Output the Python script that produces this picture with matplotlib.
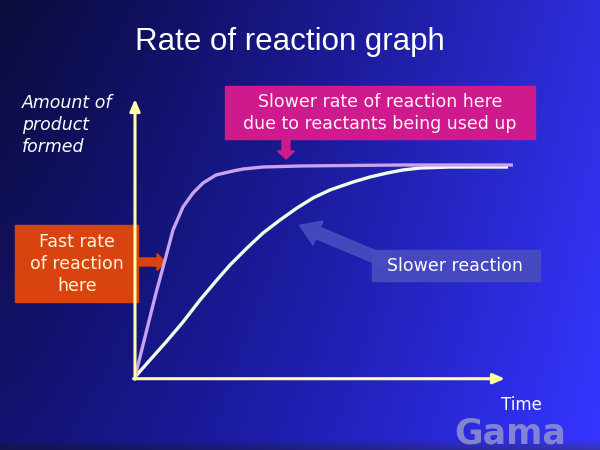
import numpy as np
import matplotlib
matplotlib.use("Agg")
import matplotlib.pyplot as plt
import matplotlib.patches as mpatches

# ---- data (time and amount in arbitrary units) ----
fast_time = [0, 2.97, 5.68, 8.11, 10.27, 12.97, 15.68, 18.38, 21.89, 26.49, 29.19,
             34.59, 44.59, 71.62, 102.16]
fast_amount = [0, 15.49, 29.58, 41.20, 51.76, 59.86, 64.79, 68.31, 71.13, 72.54, 73.24,
               73.94, 74.30, 74.65, 74.65]
slow_time = [0, 4.05, 8.38, 12.97, 17.57, 21.89, 25.68, 30.27, 34.59, 39.19, 43.78,
             48.11, 52.70, 58.92, 63.51, 68.11, 72.43, 77.03, 85.14, 100.81]
slow_amount = [0, 5.99, 12.32, 19.37, 27.11, 33.80, 39.44, 45.42, 50.70, 55.28, 59.51,
               63.03, 65.85, 68.66, 70.42, 71.83, 72.89, 73.59, 73.94, 73.94]

title = "Rate of reaction graph"
y_label = "Amount of\nproduct\nformed"
x_label = "Time"
fast_note = "Fast rate\nof reaction\nhere"
plateau_note = "Slower rate of reaction here\ndue to reactants being used up"
slow_note = "Slower reaction"

W, H = 600, 450
fig = plt.figure(figsize=(6, 4.5), dpi=100)

# ---- background (pixel-coordinate layer) ----
bg = fig.add_axes([0, 0, 1, 1])
bg.set_xlim(0, W)
bg.set_ylim(H, 0)
bg.axis("off")
yy, xx = np.mgrid[0:H, 0:W]
fx = xx / W
fy = yy / H
r = 12 + 34 * fx ** 1.5 + 8 * fy
g = 12 + 34 * fx ** 1.5 + 8 * fy
b = 60 + 160 * fx ** 1.1 + 55 * fy * (1 - 0.3 * fx)
b = b * (1 - 0.35 * np.clip((fy - 0.975) / 0.025, 0, 1))
img = np.clip(np.dstack([r, g, b]) / 255.0, 0, 1)
bg.imshow(img, extent=[0, W, H, 0], aspect="auto", zorder=0)

# ---- graph axes ----
px_per_t, px_per_a = 3.7, 2.84
ox, oy = 135, 377
right_px, top_px = 535, 60
ax = fig.add_axes([ox / W, (H - oy) / H, (right_px - ox) / W, (oy - top_px) / H])
ax.set_xlim(0, (right_px - ox) / px_per_t)
ax.set_ylim(0, (oy - top_px) / px_per_a)
ax.axis("off")
ax.patch.set_alpha(0)

ax.plot(slow_time, slow_amount, color="#F2FFE8", lw=2.4, solid_joinstyle="round",
        solid_capstyle="butt", zorder=3)
ax.plot(fast_time, fast_amount, color="#C9A2F2", lw=2.4, solid_joinstyle="round",
        solid_capstyle="butt", zorder=4)

axis_col = "#FFFFA8"
ax.annotate("", xy=((505 - ox) / px_per_t, -0.6), xytext=(-0.4, -0.6),
            arrowprops=dict(arrowstyle="-|>,head_length=0.7,head_width=0.3",
                            color=axis_col, lw=2.2, shrinkA=0, shrinkB=0),
            annotation_clip=False, zorder=5)
ax.annotate("", xy=(0, (oy - 99) / px_per_a), xytext=(0, -0.8),
            arrowprops=dict(arrowstyle="-|>,head_length=0.7,head_width=0.3",
                            color=axis_col, lw=2.2, shrinkA=0, shrinkB=0),
            annotation_clip=False, zorder=5)

# ---- title and labels ----
bg.text(290, 42, title, color="white", fontsize=22.5, family="Liberation Sans",
        ha="center", va="center", zorder=6)
bg.text(22, 125, y_label, color="white", fontsize=12.5, style="italic",
        family="DejaVu Sans", ha="left", va="center", linespacing=1.3, zorder=6)

# Gama watermark
bg.text(510, 434, "Gama", color="#A0A0CC", alpha=0.75, fontsize=25,
        family="DejaVu Sans", weight="bold", ha="center", va="center", zorder=5)
bg.text(521, 405, x_label, color="white", fontsize=12, family="DejaVu Sans",
        ha="center", va="center", zorder=6)

# ---- annotation boxes ----
orange = "#D8430F"
bg.add_patch(mpatches.Rectangle((15, 225), 123, 77, color=orange, zorder=6))
bg.add_patch(mpatches.FancyArrow(137, 262, 20, 0, width=8, head_width=17,
                                 head_length=8, color=orange, zorder=6))
bg.text(77, 264, fast_note, color="#FFF6D8", fontsize=12.5, family="DejaVu Sans",
        ha="center", va="center", linespacing=1.3, zorder=7)

magenta = "#CF1A8E"
bg.add_patch(mpatches.Rectangle((225, 86), 310, 53, color=magenta, zorder=6))
bg.add_patch(mpatches.FancyArrow(286, 138, 0, 13, width=8, head_width=17,
                                 head_length=8, color=magenta, zorder=6))
bg.text(380, 113, plateau_note, color="#FFF4F8", fontsize=12.5, family="DejaVu Sans",
        ha="center", va="center", linespacing=1.25, zorder=7)

slate = "#4A4CC0"
bg.add_patch(mpatches.FancyArrow(392, 264, -74, -31, width=12, head_width=26,
                                 head_length=20, color=slate, alpha=0.9, zorder=6))
bg.add_patch(mpatches.Rectangle((372, 250), 168, 31, color=slate, alpha=0.92, zorder=6))
bg.text(455, 266, slow_note, color="white", fontsize=12.5, family="DejaVu Sans",
        ha="center", va="center", zorder=7)

fig.savefig("out.png", dpi=100)
